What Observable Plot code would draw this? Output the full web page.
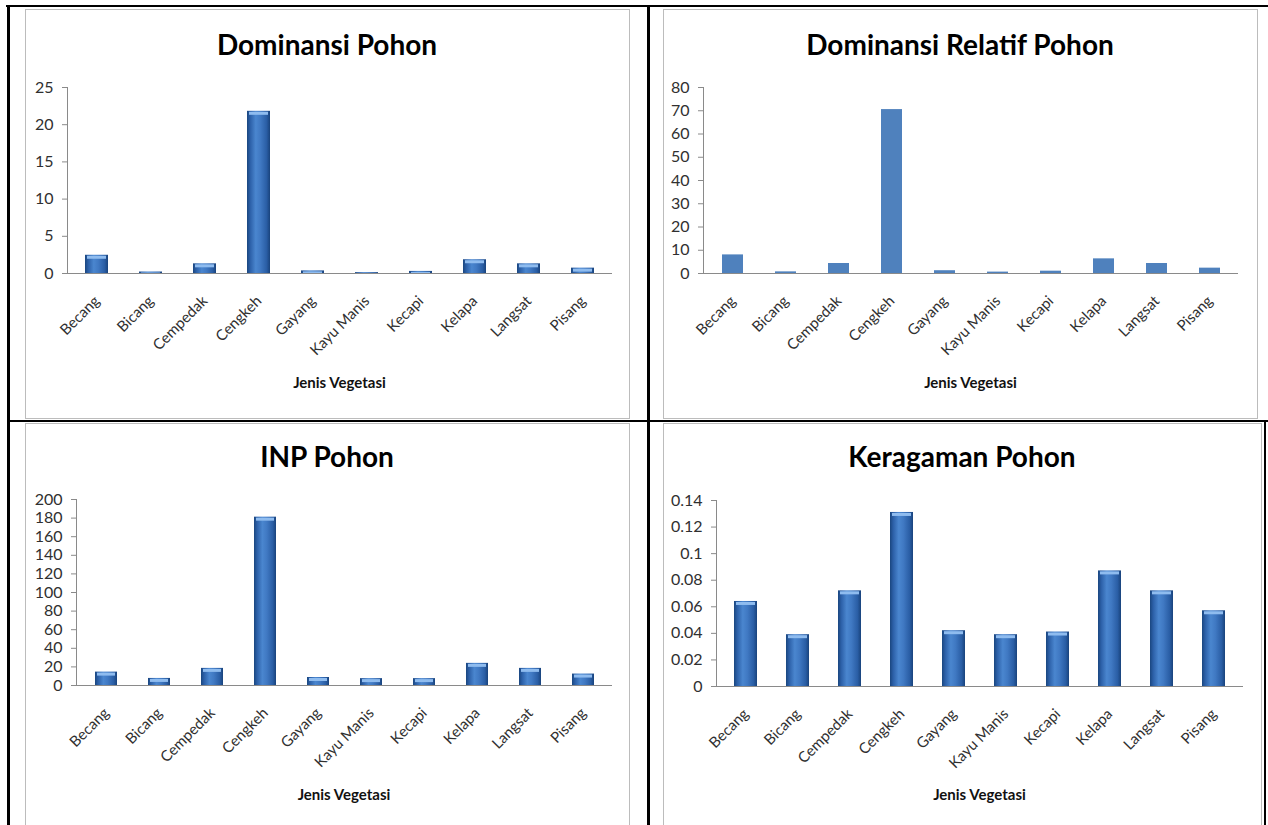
<!DOCTYPE html>
<html>
<head>
<meta charset="utf-8">
<script src="https://cdn.jsdelivr.net/npm/d3@7"></script>
<script src="https://cdn.jsdelivr.net/npm/@observablehq/plot@0.6"></script>
<style>
  html, body { margin: 0; padding: 0; background: #fff; }
  #page { position: relative; width: 1268px; height: 825px; overflow: hidden; background: #fff; font-family: Lato, "Open Sans", sans-serif; }
  .bl { position: absolute; background: #000; }
  .cell { position: absolute; border: 1px solid #bcbcbc; box-sizing: border-box; }
  .title { position: absolute; text-align: center; font-weight: 700; font-size: 28px; line-height: 28px; color: #000; white-space: nowrap; }
  .xlab { position: absolute; text-align: center; font-weight: 700; font-size: 15px; line-height: 15px; color: #111; white-space: nowrap; }
  .chart { position: absolute; }
  .chart svg { overflow: visible; }
</style>
</head>
<body>
<div id="page"></div>
<script>
// ---------- data ----------
const jenis = ["Becang", "Bicang", "Cempedak", "Cengkeh", "Gayang", "Kayu Manis", "Kecapi", "Kelapa", "Langsat", "Pisang"];
const dominansi = [2.45, 0.2, 1.3, 21.8, 0.35, 0.12, 0.28, 1.85, 1.3, 0.72];
const dominansiRelatif = [8.0, 0.7, 4.3, 70.5, 1.2, 0.6, 1.0, 6.3, 4.3, 2.3];
const inp = [14.4, 7.6, 18.4, 181, 8.6, 7.4, 7.4, 23.8, 18.4, 12.3];
const keragaman = [0.064, 0.039, 0.072, 0.131, 0.042, 0.039, 0.041, 0.087, 0.072, 0.057];

const ticksDominansi = [0, 5, 10, 15, 20, 25];
const ticksRelatif = [0, 10, 20, 30, 40, 50, 60, 70, 80];
const ticksInp = [0, 20, 40, 60, 80, 100, 120, 140, 160, 180, 200];
const ticksKeragaman = [0, 0.02, 0.04, 0.06, 0.08, 0.1, 0.12, 0.14];

const titles = ["Dominansi Pohon", "Dominansi Relatif Pohon", "INP Pohon", "Keragaman Pohon"];
const xLabel = "Jenis Vegetasi";

// ---------- page frame ----------
const page = document.getElementById("page");
function box(cls, l, t, w, h) {
  const d = document.createElement("div");
  d.className = cls;
  Object.assign(d.style, {left: l + "px", top: t + "px", width: w + "px", height: h + "px"});
  page.appendChild(d);
  return d;
}
box("cell", 25, 9, 605, 410);
box("cell", 663, 9, 595, 410);
box("cell", 25, 423, 605, 420);
box("cell", 663, 423, 599, 420);
box("bl", 6, 5, 1262, 2);
box("bl", 7, 5, 3, 830);
box("bl", 647, 5, 3, 830);
box("bl", 7, 420, 1261, 2);
box("bl", 1264, 420, 2, 420);

function label(cls, text, cx, top, w) {
  const d = document.createElement("div");
  d.className = cls;
  d.textContent = text;
  Object.assign(d.style, {left: (cx - w / 2) + "px", top: top + "px", width: w + "px"});
  page.appendChild(d);
}

const NS = "http://www.w3.org/2000/svg";
function gradientDefs(id) {
  return () => {
    const defs = document.createElementNS(NS, "defs");
    const g = document.createElementNS(NS, "linearGradient");
    g.setAttribute("id", id);
    g.setAttribute("x1", "0"); g.setAttribute("x2", "1");
    g.setAttribute("y1", "0"); g.setAttribute("y2", "0");
    [["0%", "#1a467f"], ["14%", "#2c60a8"], ["38%", "#4a86cf"], ["58%", "#4079c3"], ["85%", "#2a5ea5"], ["100%", "#19437c"]]
      .forEach(([o, c]) => {
        const s = document.createElementNS(NS, "stop");
        s.setAttribute("offset", o);
        s.setAttribute("stop-color", c);
        g.appendChild(s);
      });
    defs.appendChild(g);
    return defs;
  };
}

function chart({values, ticks, fmt, domain, left, top, width, height, mL, mR, mT, mB, pad, gradId}) {
  const data = jenis.map((name, i) => ({name, value: values[i]}));
  const marks = [];
  if (gradId) marks.push(gradientDefs(gradId));
  marks.push(
    Plot.barY(data, {x: "name", y: "value", fill: gradId ? `url(#${gradId})` : "#4f81bd"})
  );
  if (gradId) {
    marks.push(Plot.tickY(data, {x: "name", y: "value", stroke: "#8fbcef", strokeWidth: 3, dy: 2, insetLeft: 2, insetRight: 2, clip: true}));
  }
  marks.push(
    Plot.frame({anchor: "left", stroke: "#8a8a8a"}),
    Plot.ruleY([0], {stroke: "#8a8a8a"}),
    Plot.axisY(ticks, {tickSize: 5, tickPadding: 9, tickFormat: fmt, stroke: "#8a8a8a", fill: "#303030", fontSize: 16, label: null}),
    Plot.axisX({tickSize: 0, tickPadding: 25, tickRotate: -45, fill: "#303030", fontSize: 15, label: null})
  );
  const svg = Plot.plot({
    width, height,
    marginLeft: mL, marginRight: mR, marginTop: mT, marginBottom: mB,
    style: {fontFamily: "Lato, 'Open Sans', sans-serif", fontSize: "15px", background: "transparent", overflow: "visible"},
    x: {domain: jenis, paddingInner: pad, paddingOuter: pad / 2, label: null, axis: null},
    y: {domain, label: null, axis: null},
    marks
  });
  const wrap = document.createElement("div");
  wrap.className = "chart";
  Object.assign(wrap.style, {left: left + "px", top: top + "px"});
  wrap.appendChild(svg);
  page.appendChild(wrap);
}

const fmt = d3.format("~g");

chart({values: dominansi, ticks: ticksDominansi, fmt, domain: [0, 25], left: 26, top: 60, width: 600, height: 300, mL: 41, mR: 14, mT: 27, mB: 87, pad: 0.58, gradId: "gradA"});
chart({values: dominansiRelatif, ticks: ticksRelatif, fmt, domain: [0, 80], left: 664, top: 60, width: 592, height: 300, mL: 39, mR: 18, mT: 27, mB: 87, pad: 0.61, gradId: null});
chart({values: inp, ticks: ticksInp, fmt, domain: [0, 200], left: 26, top: 470, width: 600, height: 300, mL: 50, mR: 14, mT: 29, mB: 85, pad: 0.59, gradId: "gradC"});
chart({values: keragaman, ticks: ticksKeragaman, fmt, domain: [0, 0.14], left: 664, top: 470, width: 596, height: 300, mL: 52, mR: 17, mT: 30, mB: 84, pad: 0.56, gradId: "gradD"});

label("title", titles[0], 327, 30, 560);
label("title", titles[1], 960, 30, 560);
label("title", titles[2], 327, 442, 560);
label("title", titles[3], 962, 442, 560);

label("xlab", xLabel, 339.5, 375, 200);
label("xlab", xLabel, 970.5, 375, 200);
label("xlab", xLabel, 344, 787, 200);
label("xlab", xLabel, 979.5, 787, 200);
</script>
</body>
</html>
